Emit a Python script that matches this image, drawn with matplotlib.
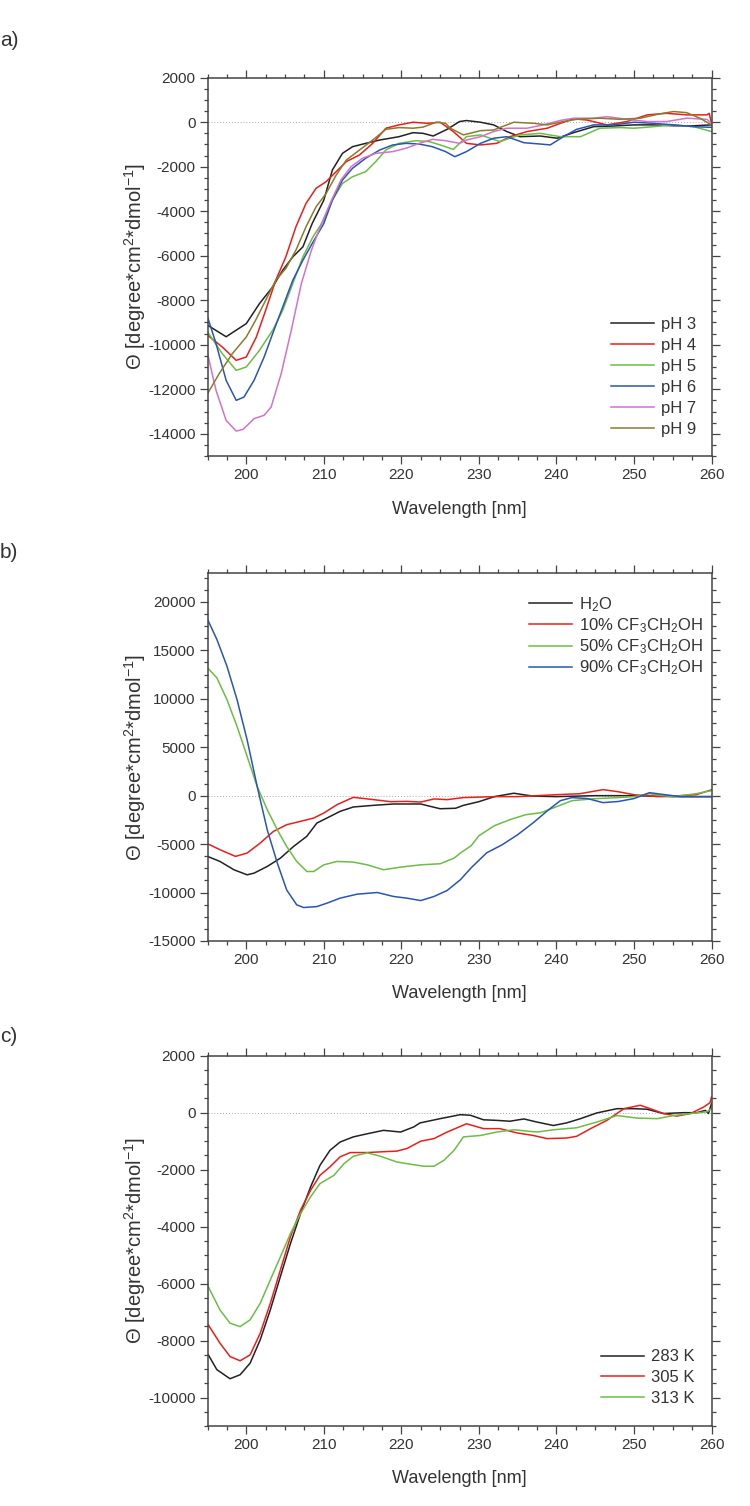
import matplotlib
matplotlib.use('Agg')
import matplotlib.pyplot as plt
from matplotlib.ticker import MultipleLocator

plt.rcParams['font.family'] = ['Liberation Sans', 'DejaVu Sans']
plt.rcParams['mathtext.fontset'] = 'custom'
plt.rcParams['mathtext.rm'] = 'Liberation Sans'
plt.rcParams['mathtext.default'] = 'regular'
plt.rcParams['axes.unicode_minus'] = False

# ---- a) pH series ----
ph_labels = ['pH 3', 'pH 4', 'pH 5', 'pH 6', 'pH 7', 'pH 9']

wl_ph3 = [195, 197.4, 200, 201.7, 203.4, 204.7, 206, 207.3, 208.5, 210, 211.1, 212.4, 213.7, 215.4, 217.2, 219.7,
          221.5, 222.8, 224.1, 225.9, 227.5, 228.4, 230.2, 231.9, 233.6, 235.3, 237.9, 240.1, 242.2, 244.8, 247.4,
          250, 252.5, 255.1, 257.7, 260]
th_ph3 = [-9120, -9640, -9050, -8150, -7400, -6650, -6050, -5600, -4550, -3500, -2150, -1400, -1100, -950, -800, -650,
          -470, -500, -620, -320, 30, 75, 0, -120, -420, -650, -620, -720, -470, -200, -170,
          -120, -120, -160, -160, -120]

wl_ph4 = [195, 196.9, 198.7, 200, 201.3, 202.5, 203.8, 205.1, 206.4, 207.7, 209, 210.3, 211.6, 212.9, 214.6, 216.3,
          218, 219.7, 221.5, 223.3, 225, 226.7, 228.4, 230.2, 232.3, 234, 236.2, 238.8, 240.5, 242.2, 243.9, 246.5,
          249.1, 251.7, 254.2, 256.8, 259.4, 259.7, 260]
th_ph4 = [-9570, -10100, -10700, -10550, -9650, -8450, -7100, -6050, -4700, -3650, -2970, -2670, -2220, -1770, -1470, -950,
          -270, -120, 0, -50, 0, -420, -950, -1020, -950, -650, -420, -270, -50, 150, 100, -120,
          30, 330, 400, 330, 330, 400, -50]

wl_ph5 = [195, 196.9, 198.7, 200, 201.7, 203.4, 204.7, 206, 207.3, 208.6, 210, 211.1, 212.4, 213.7, 215.4, 216.7,
          218, 219.7, 221.9, 223.6, 225, 226.7, 228.4, 230.2, 232.7, 235.3, 237.9, 240.5, 243.1, 245.6, 248.2,
          250, 252.5, 255.1, 257.7, 260]
th_ph5 = [-9420, -10400, -11150, -11000, -10250, -9350, -8450, -7250, -6050, -5150, -4400, -3500, -2750, -2450, -2220, -1770,
          -1250, -950, -830, -870, -1020, -1220, -650, -570, -870, -570, -500, -650, -650, -270, -240,
          -270, -200, -120, -200, -420]

wl_ph6 = [195, 196.1, 197.4, 198.7, 199.7, 201, 202.3, 203.4, 204.7, 206, 207.3, 208.5, 210, 211.1, 212.4, 213.7,
          215.4, 217.2, 218.9, 220.6, 222.3, 224, 225.7, 226.9, 228.4, 230.2, 231.9, 233.6, 235.8, 237.9, 239.2,
          240.9, 242.6, 244.8, 247.4, 250, 252.5, 255.1, 257.7, 260]
th_ph6 = [-8750, -9950, -11600, -12500, -12350, -11600, -10550, -9500, -8300, -7100, -6200, -5450, -4550, -3500, -2600, -2070,
          -1620, -1250, -1020, -950, -980, -1100, -1320, -1550, -1320, -950, -720, -650, -920, -980, -1020,
          -650, -320, -120, -120, 0, -50, -120, -200, -230]

wl_ph7 = [195, 196.1, 197.4, 198.7, 199.6, 201, 202.3, 203.2, 204.5, 205.8, 207.1, 208.4, 209.7, 211, 212.2, 213.5,
          215, 216.7, 218.9, 220.6, 222.3, 224, 225.7, 227.5, 228.4, 230.2, 231.9, 233.6, 236.2, 238.3, 240.5,
          242.2, 244.8, 246.5, 249.1, 251.7, 254.2, 256.8, 259.4, 260]
th_ph7 = [-10400, -12050, -13400, -13880, -13800, -13320, -13170, -12800, -11300, -9350, -7250, -5750, -4550, -3500, -2600, -2000,
          -1620, -1400, -1320, -1170, -950, -770, -830, -950, -800, -650, -420, -270, -270, -120, 80,
          180, 180, 250, 130, 30, 30, 180, 130, -50]

wl_ph9 = [195, 196.5, 198.2, 200, 201.2, 202.5, 203.8, 205.1, 206.4, 207.7, 209, 210.3, 211.6, 212.9, 214.6, 216.3,
          218, 219.7, 221.5, 222.8, 224.5, 225.7, 226.3, 228, 230.2, 231.9, 234.5, 237.1, 238.8, 240.9, 242.6,
          245.6, 248.2, 250.8, 253.4, 255.1, 256.8, 258.5, 260]
th_ph9 = [-12200, -11300, -10400, -9650, -8900, -8000, -7100, -6570, -5750, -4700, -3800, -3200, -2370, -1700, -1250, -800,
          -320, -240, -270, -220, 0, -50, -270, -570, -380, -350, 0, -50, -120, 30, 130,
          180, 130, 180, 380, 480, 430, 180, -120]

# ---- b) trifluoroethanol series ----
tfe_labels = ['H$_2$O', '10% CF$_3$CH$_2$OH', '50% CF$_3$CH$_2$OH', '90% CF$_3$CH$_2$OH']

wl_h2o = [195, 196.6, 198.4, 200.1, 201, 202.7, 204.4, 206.1, 207.8, 209.1, 210.4, 212.1, 213.8, 216.4, 219, 222.5,
          223.7, 225, 227, 228, 230, 232, 234.5, 237, 240, 245, 250, 255, 260]
th_h2o = [-6270, -6790, -7650, -8170, -8000, -7310, -6450, -5240, -4200, -2830, -2310, -1620, -1170, -1000, -860, -860,
          -1100, -1350, -1300, -1000, -620, -100, 250, -50, -100, 0, 0, -100, -100]

wl_tfe10 = [195, 196.6, 198.6, 200.1, 201.8, 203.5, 205.2, 207, 208.7, 210, 211.7, 213.8, 216.4, 218.6, 220.7, 222.5,
            224.2, 225.9, 228, 232, 235, 240, 243, 246, 248, 250, 253, 256, 258, 260]
th_tfe10 = [-4960, -5580, -6270, -5930, -4890, -3690, -3000, -2650, -2310, -1790, -930, -170, -410, -620, -590, -660,
            -340, -410, -200, -100, -100, 100, 200, 620, 400, 100, -100, 0, 100, 600]

wl_tfe50 = [195, 196.2, 197.5, 198.8, 200.1, 201.4, 202.7, 204, 205.2, 206.5, 207.8, 208.7, 210, 211.7, 213.8, 215.6,
            217.7, 219.9, 222.5, 225, 226.8, 227.6, 229, 230, 232, 234, 236, 238, 240, 242, 245, 248, 250, 252, 255,
            258, 260]
th_tfe50 = [13200, 12170, 9930, 7170, 4070, 960, -1450, -3520, -5240, -6790, -7830, -7830, -7140, -6790, -6860, -7140,
            -7650, -7380, -7140, -7030, -6450, -5930, -5170, -4140, -3100, -2480, -1970, -1760, -1140, -520, -310,
            -200, -100, 200, -100, 200, 520]

wl_tfe90 = [195, 196.2, 197.5, 198.8, 200.1, 201.4, 202.7, 204, 205.2, 206.5, 207.4, 209.1, 210.4, 212.1, 214.3, 216.9,
            219, 220.7, 222.5, 224.2, 225.9, 227.6, 229, 231, 233, 235, 237, 239, 240.5, 242, 244, 246, 248, 250, 252,
            254, 256, 258, 260]
th_tfe90 = [18200, 16140, 13380, 9930, 5790, 960, -3520, -6960, -9720, -11270, -11550, -11450, -11100, -10580, -10170, -10000,
            -10410, -10580, -10830, -10410, -9790, -8690, -7450, -5900, -5070, -4030, -2800, -1450, -520, -200, -300,
            -720, -600, -300, 310, 100, -100, -100, -100]

# ---- c) temperature series ----
temp_labels = ['283 K', '305 K', '313 K']

wl_283 = [195.1, 196.2, 197.9, 199.2, 200.5, 201.8, 203.1, 204.4, 205.7, 207, 208.3, 209.5, 210.8, 212.1, 213.8, 215.6,
          217.7, 219.9, 221.6, 222.4, 225, 227.6, 228.9, 230.6, 232.3, 234, 235.8, 237.5, 239.6, 241.3, 243.1,
          245.2, 247.8, 250, 251.7, 253.8, 256.4, 258.1, 259.2, 259.6, 260]
th_283 = [-8500, -9020, -9340, -9200, -8790, -7970, -6920, -5750, -4590, -3540, -2600, -1850, -1320, -1030, -850, -740,
          -620, -680, -500, -360, -210, -70, -90, -250, -270, -300, -220, -330, -450, -360, -210,
          -10, 140, 140, 120, -30, 0, 0, 80, -30, 320]

wl_305 = [195.1, 196.6, 197.9, 199.2, 200.5, 201.8, 203.1, 204.4, 205.7, 207, 208.3, 209.5, 210.8, 212.1, 213.4, 215.6,
          217.7, 219.4, 220.7, 222.5, 224.2, 225.9, 228.4, 230.6, 232.7, 234.9, 237, 238.8, 241.3, 242.6, 244.4,
          246.5, 248.7, 250.8, 252.1, 253.8, 255.5, 257.3, 259, 259.8, 260]
th_305 = [-7450, -8090, -8560, -8710, -8500, -7740, -6690, -5520, -4350, -3420, -2720, -2200, -1900, -1550, -1400, -1400,
          -1370, -1350, -1260, -1000, -910, -680, -390, -560, -560, -710, -800, -910, -890, -830, -560,
          -270, 140, 260, 140, -30, -120, -30, 200, 350, 550]

wl_313 = [195.1, 196.6, 197.9, 199.2, 200.5, 201.8, 203.1, 204.4, 205.7, 207, 208.3, 209.5, 211.3, 212.6, 213.8, 215.6,
          217.3, 219.4, 221.2, 222.9, 224.2, 225.5, 226.8, 228, 230.2, 232.3, 234.5, 237.5, 239.6, 242.6, 245.2,
          247.8, 250.4, 253, 255.1, 257.3, 259.4, 260]
th_313 = [-6110, -6920, -7390, -7510, -7270, -6690, -5870, -5060, -4240, -3540, -2950, -2490, -2200, -1790, -1530, -1410,
          -1530, -1730, -1810, -1880, -1880, -1670, -1320, -850, -800, -680, -600, -680, -600, -530, -330,
          -100, -190, -210, -100, -30, 30, 140]

couleurs = ['#222222', '#e8201c', '#6cbd45', '#2a55b5', '#d273c7', '#8c7b2e']
couleur_texte = '#333333'


def habiller(ax, ymin, ymax, pas_maj, pas_min):
    '''mise en forme commune : cadre, graduations sur les 4 cotes, ligne du zero'''
    ax.set_xlim(195, 260)
    ax.set_ylim(ymin, ymax)
    ax.xaxis.set_major_locator(MultipleLocator(10))
    ax.xaxis.set_minor_locator(MultipleLocator(2.5))
    ax.yaxis.set_major_locator(MultipleLocator(pas_maj))
    ax.yaxis.set_minor_locator(MultipleLocator(pas_min))
    ax.tick_params(which='both', direction='out', top=True, right=True, width=0.9,
                   color='#444444', labelcolor=couleur_texte, labelsize=11)
    ax.tick_params(which='major', length=5.5, pad=3)
    ax.tick_params(which='minor', length=2.7)
    for s in ax.spines.values():
        s.set_linewidth(1.1)
        s.set_color('#444444')
    ax.axhline(0, color='#aaaaaa', lw=0.7, ls=(0, (1, 2)), zorder=0)
    ax.set_xlabel('Wavelength [nm]', fontsize=13, color=couleur_texte)
    ax.set_ylabel('\u0398 [degree*cm$^2$*dmol$^{-1}$]', fontsize=14.5, color=couleur_texte)
    ax.yaxis.set_label_coords(-0.118, 0.5)
    ax.xaxis.set_label_coords(0.5, -0.12)


def legende(ax, x, y, espace):
    ax.legend(loc='upper left', bbox_to_anchor=(x, y), frameon=False, fontsize=12, handlelength=2.6,
              handletextpad=0.4, labelspacing=espace, borderpad=0, borderaxespad=0, labelcolor=couleur_texte)


fig = plt.figure(figsize=(7.5, 15.06), dpi=100)

# panneau a
ax_a = fig.add_axes([0.2767, 0.6972, 0.672, 0.2512])
series_a = [(wl_ph3, th_ph3), (wl_ph4, th_ph4), (wl_ph5, th_ph5), (wl_ph6, th_ph6), (wl_ph7, th_ph7), (wl_ph9, th_ph9)]
for i, (wl, th) in enumerate(series_a):
    ax_a.plot(wl, th, color=couleurs[i], lw=1.1, label=ph_labels[i])
habiller(ax_a, -15000, 2000, 2000, 500)
legende(ax_a, 0.80, 0.367, 0.36)

# panneau b
ax_b = fig.add_axes([0.2767, 0.3752, 0.672, 0.2444])
series_b = [(wl_h2o, th_h2o), (wl_tfe10, th_tfe10), (wl_tfe50, th_tfe50), (wl_tfe90, th_tfe90)]
for i, (wl, th) in enumerate(series_b):
    ax_b.plot(wl, th, color=couleurs[i], lw=1.1, label=tfe_labels[i])
habiller(ax_b, -15000, 23000, 5000, 1250)
legende(ax_b, 0.638, 0.94, 0.15)

# panneau c
ax_c = fig.add_axes([0.2767, 0.0531, 0.672, 0.2459])
series_c = [(wl_283, th_283), (wl_305, th_305), (wl_313, th_313)]
for i, (wl, th) in enumerate(series_c):
    ax_c.plot(wl, th, color=couleurs[i], lw=1.1, label=temp_labels[i])
habiller(ax_c, -11000, 2000, 2000, 500)
legende(ax_c, 0.781, 0.207, 0.34)

# lettres des panneaux
fig.text(0.0, 1 - 40 / 1506, 'a)', fontsize=15, color=couleur_texte, va='center')
fig.text(0.0, 1 - 552 / 1506, 'b)', fontsize=15, color=couleur_texte, va='center')
fig.text(0.0, 1 - 1037 / 1506, 'c)', fontsize=15, color=couleur_texte, va='center')

plt.savefig('out.png', dpi=100)
